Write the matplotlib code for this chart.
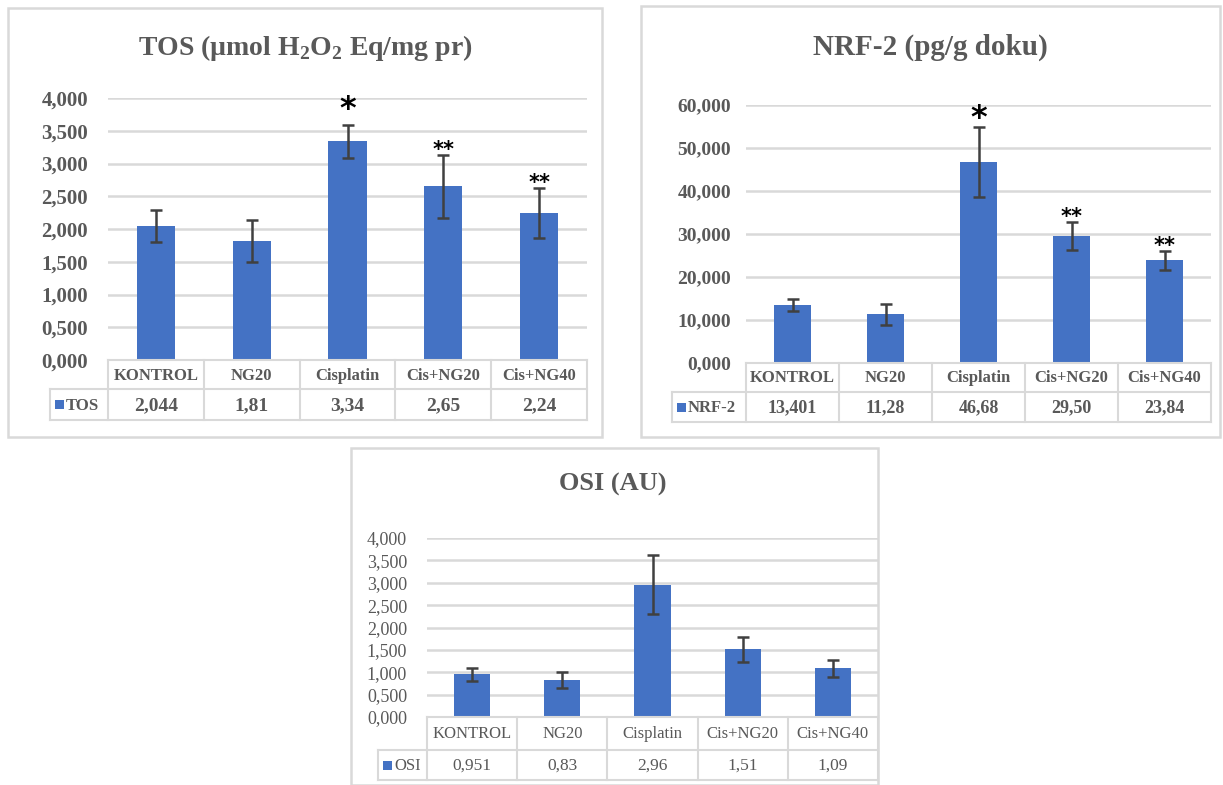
import matplotlib
matplotlib.use('Agg')
import matplotlib.pyplot as plt
from matplotlib.patches import Rectangle
from matplotlib.lines import Line2D

W, H = 1223, 785

groups = ['KONTROL', 'NG20', 'Cisplatin', 'Cis+NG20', 'Cis+NG40']

tos_vals = [2.044, 1.81, 3.34, 2.65, 2.24]
tos_err = [0.245, 0.32, 0.25, 0.48, 0.38]
tos_labels = ['2,044', '1,81', '3,34', '2,65', '2,24']
tos_stars = ['', '', '*', '**', '**']

nrf_vals = [13.401, 11.28, 46.68, 29.50, 23.84]
nrf_err = [1.4, 2.5, 8.1, 3.2, 2.3]
nrf_labels = ['13,401', '11,28', '46,68', '29,50', '23,84']
nrf_stars = ['', '', '*', '**', '**']

osi_vals = [0.951, 0.83, 2.96, 1.51, 1.09]
osi_err = [0.155, 0.18, 0.65, 0.27, 0.19]
osi_labels = ['0,951', '0,83', '2,96', '1,51', '1,09']

plt.rcParams['font.family'] = ['Liberation Serif', 'DejaVu Serif']
plt.rcParams['mathtext.fontset'] = 'custom'
plt.rcParams['mathtext.rm'] = 'Liberation Serif'
plt.rcParams['mathtext.bf'] = 'Liberation Serif:bold'

BLUE = '#4472C4'
GREY = '#595959'
LINE = '#d9d9d9'
PT = 72 / 100  # points per pixel

fig = plt.figure(figsize=(W / 100, H / 100), dpi=100)


def fx(x):
    return x / W


def fy(y):
    return 1 - y / H


def hline(x0, x1, y):
    fig.add_artist(Line2D([fx(x0), fx(x1)], [fy(y), fy(y)], color=LINE, lw=1.5))


def vline(x, y0, y1):
    fig.add_artist(Line2D([fx(x), fx(x)], [fy(y0), fy(y1)], color=LINE, lw=1.5))


def panel(box, plot, title, title_xy, title_size, vals, err, ymax, ystep,
          labels, name, stars, star_off, bold, tick_size, tick_pad,
          cat_size, val_size, leg_x, row_y):
    # outer frame
    bx0, by0, bx1, by1 = box
    fig.add_artist(Rectangle((fx(bx0), fy(by1)), fx(bx1 - bx0), (by1 - by0) / H,
                             fill=False, edgecolor=LINE, lw=1.8))
    fig.text(fx(title_xy[0]), fy(title_xy[1]), title, ha='center', va='center',
             fontsize=title_size, fontweight='bold', color=GREY)

    x0, ytop, x1, ybot = plot
    ax = fig.add_axes([fx(x0), fy(ybot), fx(x1 - x0), (ybot - ytop) / H])
    xs = list(range(len(vals)))
    ax.bar(xs, vals, width=0.4, color=BLUE, yerr=err, ecolor='#404040',
           capsize=4, error_kw={'elinewidth': 1.8, 'capthick': 1.8}, zorder=3)
    ax.set_xlim(-0.5, len(vals) - 0.5)
    ax.set_ylim(0, ymax)
    ticks = [i * ystep for i in range(int(round(ymax / ystep)) + 1)]
    ax.set_yticks(ticks)
    ax.set_yticklabels([('%.3f' % t).replace('.', ',') for t in ticks],
                       fontsize=tick_size, color=GREY,
                       fontweight='bold' if bold else 'normal')
    ax.set_xticks([])
    ax.tick_params(axis='y', length=0, pad=tick_pad * PT)
    ax.grid(axis='y', color=LINE, lw=1.8, zorder=0)
    for s in ax.spines.values():
        s.set_visible(False)
    ax.patch.set_alpha(0)

    for i, s in enumerate(stars):
        if s:
            fs = 23 if s == '*' else 15
            off = star_off[0] if s == '*' else star_off[1]
            ax.annotate(s, (i, vals[i] + err[i]), xytext=(0, off * PT),
                        textcoords='offset points', ha='center', va='baseline',
                        fontsize=fs, fontweight='bold', color='black',
                        family='DejaVu Sans', annotation_clip=False)

    # data table under the plot
    r0, r1, r2 = row_y
    n = len(vals)
    cw = (x1 - x0) / n
    hline(x0, x1, r0)
    hline(leg_x, x1, r1)
    hline(leg_x, x1, r2)
    vline(leg_x, r1, r2)
    for i in range(n + 1):
        vline(x0 + i * cw, r0, r2)
    w = 'bold' if bold else 'normal'
    for i in range(n):
        cx = x0 + (i + 0.5) * cw
        fig.text(fx(cx), fy((r0 + r1) / 2 + 1), groups[i], ha='center', va='center',
                 fontsize=cat_size, color=GREY, fontweight=w)
        fig.text(fx(cx), fy((r1 + r2) / 2 + 1), labels[i], ha='center', va='center',
                 fontsize=val_size, color=GREY, fontweight=w)
    ym = (r1 + r2) / 2
    fig.add_artist(Rectangle((fx(leg_x + 5), fy(ym + 4.5)), 9 / W, 9 / H,
                             facecolor=BLUE, edgecolor='none'))
    fig.text(fx(leg_x + 16), fy(ym + 1), name, ha='left', va='center',
             fontsize=cat_size, color=GREY, fontweight=w)


panel((8, 8, 602, 437), (108, 98, 587, 360),
      r'TOS (µmol H$_\mathbf{2}$O$_\mathbf{2}$ Eq/mg pr)', (305, 48), 20,
      tos_vals, tos_err, 4.0, 0.5, tos_labels, 'TOS', tos_stars, (7, -1), True,
      15, 20, 12, 14, 50, (360, 389, 420))

panel((641, 6, 1220, 437), (746, 105, 1211, 363),
      'NRF-2 (pg/g doku)', (930, 47), 21,
      nrf_vals, nrf_err, 60.0, 10.0, nrf_labels, 'NRF-2', nrf_stars, (0, -1), True,
      14, 15, 12, 13, 672, (363, 392, 422))

panel((351, 448, 878, 785), (427, 538, 878, 717),
      'OSI (AU)', (613, 484), 19,
      osi_vals, osi_err, 4.0, 0.5, osi_labels, 'OSI', ['', '', '', '', ''], (0, 0), False,
      13, 20, 12, 12.5, 378, (717, 750, 780))

fig.savefig('out.png', dpi=100)
